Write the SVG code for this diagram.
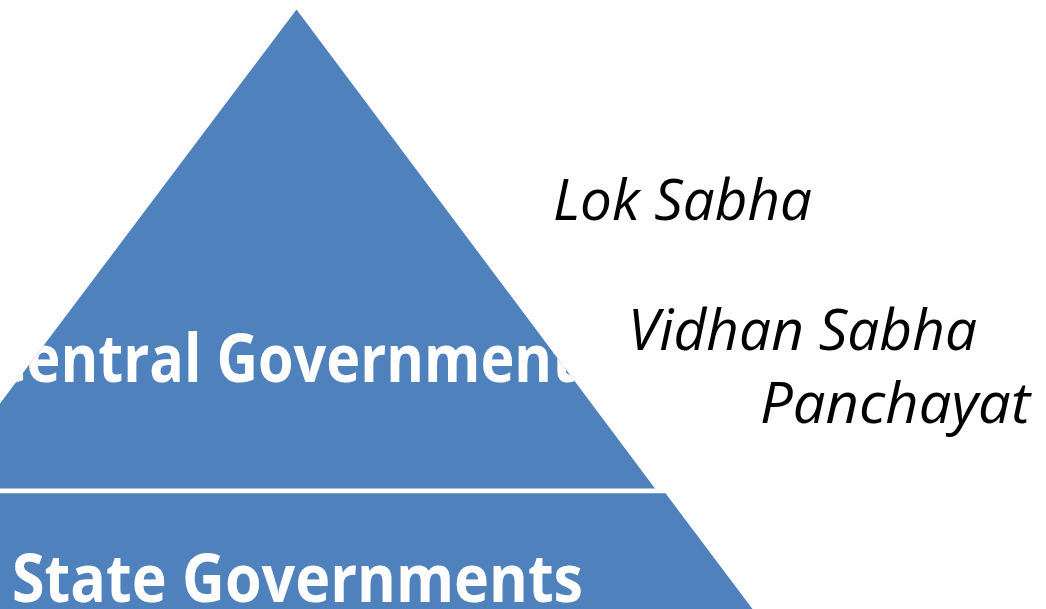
<svg xmlns="http://www.w3.org/2000/svg" width="1046" height="609" viewBox="0 0 1046 609">
  <style>
    .seg { fill: #4F81BD; }
    .lvl { font-family: "Open Sans", "Liberation Sans", sans-serif; font-weight: 700; fill: #FFFFFF; font-size: 66px; }
    .lbl { font-family: "Open Sans", "Liberation Sans", sans-serif; font-style: italic; fill: #000000; font-size: 57px; }
  </style>
  <defs>
    <clipPath id="topClip">
      <polygon points="296.5,9.5 655,488.5 -64,488.5"/>
    </clipPath>
  </defs>
  <rect width="1046" height="609" fill="#FFFFFF"/>
  <g id="central">
    <polygon class="seg" points="296.5,9.5 655,488.5 -64,488.5"/>
    <text class="lvl" x="-10" y="382" textLength="587" lengthAdjust="spacingAndGlyphs" clip-path="url(#topClip)">Central Government</text>
  </g>
  <g id="state">
    <polygon class="seg" points="-80,493.3 665.5,493.3 752.5,609 -170,609"/>
    <text class="lvl" x="12" y="602" textLength="571" lengthAdjust="spacingAndGlyphs">State Governments</text>
  </g>
  <g id="lok-sabha">
    <text class="lbl" x="553" y="220" textLength="259" lengthAdjust="spacingAndGlyphs">Lok Sabha</text>
  </g>
  <g id="vidhan-sabha">
    <text class="lbl" x="628" y="350" textLength="349" lengthAdjust="spacingAndGlyphs">Vidhan Sabha</text>
  </g>
  <g id="panchayat">
    <text class="lbl" x="760" y="423" textLength="270" lengthAdjust="spacingAndGlyphs">Panchayat</text>
  </g>
</svg>
